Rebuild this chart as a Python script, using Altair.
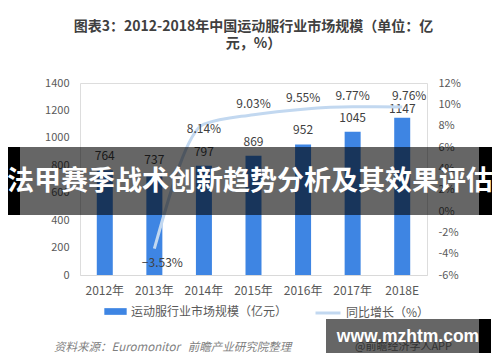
import altair as alt
import pandas as pd

years = ["2012年", "2013年", "2014年", "2015年", "2016年", "2017年", "2018E"]
market = [764, 737, 797, 869, 952, 1045, 1147]
growth = [None, -3.53, 8.14, 9.03, 9.55, 9.77, 9.76]
left_ticks = [0, 200, 400, 600, 800, 1000, 1200, 1400]
right_ticks = [-6, -4, -2, 0, 2, 4, 6, 8, 10, 12]

title_lines = ["图表3：2012-2018年中国运动服行业市场规模（单位：亿", "元，%）"]
bar_name = "运动服行业市场规模（亿元）"
line_name = "同比增长（%）"
banner = "法甲赛季战术创新趋势分析及其效果评估"
source = "资料来源：Euromonitor\u00a0\u00a0\u00a0前瞻产业研究院整理"
wm1 = "www.mzhtm.com"
wm2 = "@前瞻经济学人APP"

FONT = "Noto Sans CJK SC"
BLUE = "#3e85e3"
LINE = "#c2d8f0"
GRAY = "#595959"

df = pd.DataFrame({"year": years, "market": market, "growth": growth})
df["bar_s"] = bar_name
df["line_s"] = line_name

x = alt.X("year:N", sort=years,
          scale=alt.Scale(paddingInner=0, paddingOuter=0),
          axis=alt.Axis(title=None, labelAngle=0, ticks=False, domainColor="#d9d9d9",
                        labelColor=GRAY, labelFontSize=12, labelFont=FONT, labelPadding=10))

y_left = alt.Y("market:Q", scale=alt.Scale(domain=[0, 1400], nice=False),
               axis=alt.Axis(title=None, values=left_ticks, ticks=False, domain=False, grid=False,
                             format="d", labelColor=GRAY, labelFontSize=11, labelFont=FONT,
                             labelPadding=11))

y_right = alt.Y("growth:Q", scale=alt.Scale(domain=[-6, 12], nice=False),
                axis=alt.Axis(title=None, orient="right", values=right_ticks, ticks=False, domain=False,
                              grid=False, labelExpr="datum.value + '%'", labelColor=GRAY,
                              labelFontSize=11, labelFont=FONT, labelPadding=11))

base = alt.Chart(df)

bars = base.mark_bar(size=16).encode(
    x=x, y=y_left,
    color=alt.Color("bar_s:N", scale=alt.Scale(domain=[bar_name], range=[BLUE]),
                    legend=alt.Legend(title=None, orient="none", legendX=24, legendY=217,
                                      symbolType="M-1,-0.3H1V0.3H-1Z", symbolSize=500,
                                      symbolStrokeWidth=0, labelFont=FONT, labelFontSize=12,
                                      labelColor=GRAY, labelOffset=4, padding=0)),
)
bar_text = base.transform_filter("datum.year != '2018E'").mark_text(
    dy=-7, baseline="bottom", fontSize=12, color="#404040", font=FONT).encode(
    x=x, y=y_left, text="market:Q")
bar_text_last = base.transform_filter("datum.year == '2018E'").mark_text(
    dy=-2, baseline="bottom", fontSize=12, color="#404040", font=FONT).encode(
    x=x, y=y_left, text="market:Q")

bar_group = alt.layer(bars, bar_text, bar_text_last)

gbase = base.transform_filter("isValid(datum.growth)").transform_calculate(
    lbl="format(datum.growth, '.2f') + '%'")

line = gbase.mark_line(interpolate="monotone", strokeWidth=3).encode(
    x=x, y=y_right,
    stroke=alt.Stroke("line_s:N", scale=alt.Scale(domain=[line_name], range=[LINE]),
                      legend=alt.Legend(title=None, orient="none", legendX=234, legendY=216,
                                        symbolType="stroke", symbolSize=625, symbolStrokeWidth=3,
                                        labelFont=FONT, labelFontSize=12, labelColor=GRAY,
                                        labelOffset=4, padding=0)),
)
lbl_neg = gbase.transform_filter("datum.growth < 0").mark_text(
    dx=8, dy=14, baseline="middle", fontSize=12, color="#404040", font=FONT).encode(
    x=x, y=y_right, text="lbl:N")
lbl_low = gbase.transform_filter("datum.growth > 0 && datum.growth < 9").mark_text(
    dy=5, baseline="middle", fontSize=12, color="#404040", font=FONT).encode(
    x=x, y=y_right, text="lbl:N")
lbl_high = gbase.transform_filter("datum.growth >= 9 && datum.year != '2018E'").mark_text(
    dy=-11, baseline="middle", fontSize=12, color="#404040", font=FONT).encode(
    x=x, y=y_right, text="lbl:N")
lbl_last = gbase.transform_filter("datum.year == '2018E'").mark_text(
    dx=7, dy=-11, baseline="middle", fontSize=12, color="#404040", font=FONT).encode(
    x=x, y=y_right, text="lbl:N")

line_group = alt.layer(line, lbl_neg, lbl_low, lbl_high, lbl_last)

one = pd.DataFrame({"k": [0]})
band = alt.Chart(one).mark_rect(color="black", opacity=0.6).encode(
    x=alt.value(-73), x2=alt.value(412), y=alt.value(64), y2=alt.value(132))
band_l = alt.Chart(one).mark_rect(color="black").encode(
    x=alt.value(-73), x2=alt.value(-60), y=alt.value(64), y2=alt.value(132))
band_r = alt.Chart(one).mark_rect(color="black").encode(
    x=alt.value(399), x2=alt.value(412), y=alt.value(64), y2=alt.value(132))
band_text = alt.Chart(one).mark_text(color="white", font=FONT, fontWeight="bold", fontSize=27,
                                     align="center", baseline="middle").encode(
    x=alt.value(170), y=alt.value(99), text=alt.value(banner))

src_text = alt.Chart(one).mark_text(color="#7f7f7f", font=FONT, fontStyle="italic", fontSize=11.5,
                                    align="left", baseline="middle").encode(
    x=alt.value(-26), y=alt.value(265), text=alt.value(source))

wm_sub = alt.Chart(one).mark_text(color="#808080", font=FONT, fontSize=11,
                                  align="left", baseline="middle").encode(
    x=alt.value(275), y=alt.value(264), text=alt.value(wm2))
wm_box = alt.Chart(one).mark_rect(color="black", opacity=0.6).encode(
    x=alt.value(246), x2=alt.value(411), y=alt.value(236), y2=alt.value(270))
wm_box_r = alt.Chart(one).mark_rect(color="black").encode(
    x=alt.value(399), x2=alt.value(411), y=alt.value(236), y2=alt.value(270))
wm_text = alt.Chart(one).mark_text(color="white", font="Liberation Sans", fontWeight="bold",
                                   fontSize=17.5, align="center", baseline="middle").encode(
    x=alt.value(328), y=alt.value(254), text=alt.value(wm1))

chart = alt.layer(
    bar_group, line_group, band, band_l, band_r, band_text, src_text, wm_sub, wm_box, wm_box_r, wm_text
).resolve_scale(y="independent").properties(
    width=347, height=192,
    title=alt.Title(text=title_lines, fontSize=14, fontWeight="bold", color="#404040", font=FONT,
                    anchor="middle", offset=26, lineHeight=17),
    autosize=alt.AutoSizeParams(type="none"),
    padding={"left": 72, "top": 75, "right": 65, "bottom": 79},
).configure_view(stroke=None).configure(background="white")

chart.save("out.html", embed_options={"renderer": "svg", "actions": False})
